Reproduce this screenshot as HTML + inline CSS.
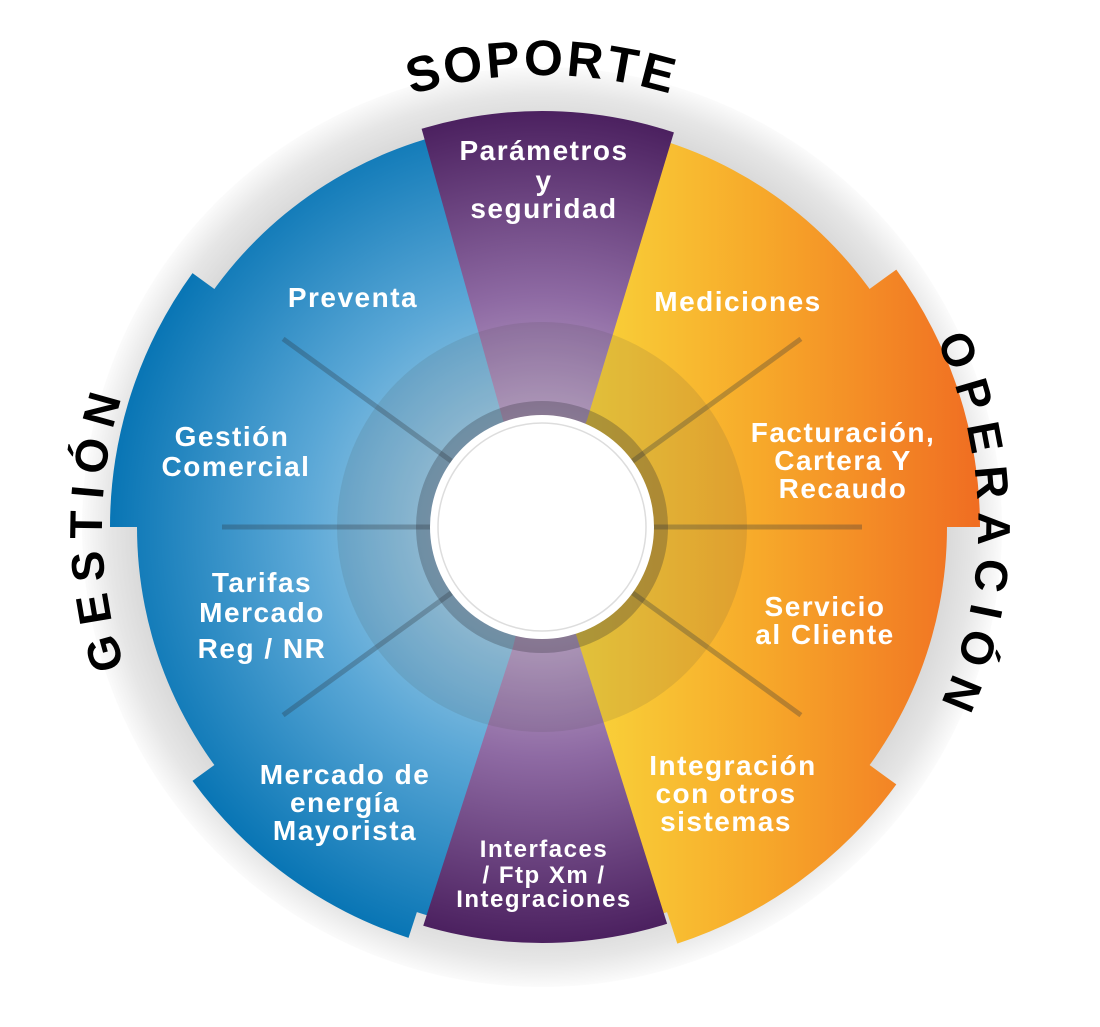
<!DOCTYPE html>
<html><head><meta charset="utf-8"><style>
html,body{margin:0;padding:0;background:#fff;}
svg{display:block;}
.lbl{font-family:"Liberation Sans",sans-serif;font-weight:bold;fill:#fff;font-size:28px;letter-spacing:1.5px;text-anchor:middle;}
.big{font-family:"Liberation Sans",sans-serif;font-weight:bold;fill:#000;font-size:46px;}
</style></head><body>
<svg id="s" width="1100" height="1027" viewBox="0 0 1100 1027" xmlns="http://www.w3.org/2000/svg">
<defs>
<radialGradient id="halo" cx="542" cy="527" r="465" gradientUnits="userSpaceOnUse">
<stop offset="0.82" stop-color="#cfcfcf"/><stop offset="0.93" stop-color="#e6e6e6"/><stop offset="1" stop-color="#fff"/></radialGradient>
<radialGradient id="blue" cx="542" cy="527" r="440" gradientUnits="userSpaceOnUse">
<stop offset="0.25" stop-color="#9ccbe6"/><stop offset="0.55" stop-color="#5aa7d6"/><stop offset="1" stop-color="#0573b3"/></radialGradient>
<linearGradient id="orange" x1="580" y1="0" x2="980" y2="0" gradientUnits="userSpaceOnUse">
<stop offset="0" stop-color="#f9d43a"/><stop offset="0.45" stop-color="#f7a92a"/><stop offset="1" stop-color="#f06d22"/></linearGradient>
<radialGradient id="purple" cx="542" cy="527" r="420" gradientUnits="userSpaceOnUse">
<stop offset="0.25" stop-color="#c0a8cc"/><stop offset="0.55" stop-color="#8e6aa3"/><stop offset="1" stop-color="#4a1f5e"/></radialGradient>
<clipPath id="cc"><circle cx="542" cy="527" r="416"/></clipPath>
<path id="tp1" d=""/><path id="tp2" d=""/><path id="tp3" d=""/>
</defs>
<circle cx="542" cy="527" r="460" fill="url(#halo)"/>
<g id="base"></g>
<g clip-path="url(#cc)">
<polygon points="542,527 503,420 380,-20 720,-20 587,420" fill="url(#purple)"/>
<polygon points="542,527 513,647 380,1060 710,1060 580,647" fill="url(#purple)"/>
</g>
<g id="seps" stroke="rgba(40,50,60,0.3)" stroke-width="5"></g>
<circle cx="542" cy="527" r="205" fill="rgba(70,70,70,0.13)"/>
<circle cx="542" cy="527" r="126" fill="rgba(40,40,50,0.28)"/>
<circle cx="542" cy="527" r="112" fill="#fff"/>
<circle cx="542" cy="527" r="104" fill="none" stroke="#ddd" stroke-width="1.5"/>

<text class="big" style="letter-spacing:3px;font-size:50px"><textPath href="#tp1" startOffset="50%" text-anchor="middle">SOPORTE</textPath></text>
<text class="big" style="letter-spacing:11px"><textPath href="#tp2" startOffset="50%" text-anchor="middle">GESTIÓN</textPath></text>
<text class="big" style="letter-spacing:12px"><textPath href="#tp3" startOffset="50%" text-anchor="middle">OPERACIÓN</textPath></text>

<g class="lbl">
<text x="544" y="160">Parámetros</text>
<text x="544" y="190">y</text>
<text x="544" y="218">seguridad</text>
<text x="353" y="307">Preventa</text>
<text x="738" y="311">Mediciones</text>
<text x="232" y="446">Gestión</text>
<text x="236" y="476">Comercial</text>
<text x="843" y="442">Facturación,</text>
<text x="843" y="470">Cartera Y</text>
<text x="843" y="498">Recaudo</text>
<text x="262" y="592">Tarifas</text>
<text x="262" y="622">Mercado</text>
<text x="262" y="658">Reg / NR</text>
<text x="825" y="616">Servicio</text>
<text x="825" y="644">al Cliente</text>
<text x="345" y="784">Mercado de</text>
<text x="345" y="812">energía</text>
<text x="345" y="840">Mayorista</text>
<text x="733" y="775">Integración</text>
<text x="726" y="803">con otros</text>
<text x="726" y="831">sistemas</text>
<text x="544" y="857" style="font-size:24px">Interfaces</text>
<text x="544" y="883" style="font-size:24px">/ Ftp Xm /</text>
<text x="544" y="907" style="font-size:24px">Integraciones</text>
</g>
</svg>
<script>
var cx=542,cy=527,NS="http://www.w3.org/2000/svg";
function p(a,r){a=a*Math.PI/180;return (cx+r*Math.cos(a)).toFixed(1)+","+(cy+r*Math.sin(a)).toFixed(1);}
function sec(a1,a2,r){return "M"+cx+","+cy+" L"+p(a1,r)+" A"+r+","+r+" 0 "+((a2-a1)>180?1:0)+" 1 "+p(a2,r)+" Z";}
function arc(a1,a2,r){return "M"+p(a1,r)+" A"+r+","+r+" 0 "+((a2-a1)>180?1:0)+" 1 "+p(a2,r);}
var b=document.getElementById("base");
function add(d,f){var e=document.createElementNS(NS,"path");e.setAttribute("d",d);e.setAttribute("fill",f);b.appendChild(e);}
add(sec(90,270,405),"url(#blue)");
add(sec(108,144,432),"url(#blue)");
add(sec(180,216,432),"url(#blue)");
add(sec(-90,90,405),"url(#orange)");
add(sec(-36,0,438),"url(#orange)");
add(sec(36,72,438),"url(#orange)");
var s=document.getElementById("seps");
[-144,180,144,-36,0,36].forEach(function(a){var l=document.createElementNS(NS,"line");var a1=p(a,110).split(","),a2=p(a,320).split(",");l.setAttribute("x1",a1[0]);l.setAttribute("y1",a1[1]);l.setAttribute("x2",a2[0]);l.setAttribute("y2",a2[1]);s.appendChild(l);});
document.getElementById("tp1").setAttribute("d",arc(-170,-10,452));
document.getElementById("tp2").setAttribute("d",arc(100,260,440));
document.getElementById("tp3").setAttribute("d",arc(-80,80,436));
</script>
</body></html>
